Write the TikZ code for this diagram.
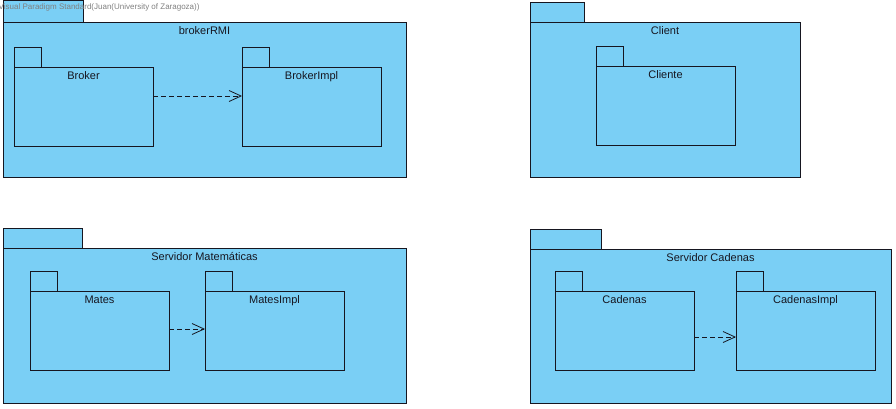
\documentclass[tikz,border=0pt]{standalone}
\usepackage{fontspec}
\setmainfont{Liberation Sans}
\usetikzlibrary{arrows.meta}

\definecolor{pkgfill}{RGB}{122,207,245}
\definecolor{pkgline}{RGB}{22,22,32}
\tikzset{
  pkgbody/.style={draw=pkgline, fill=pkgfill, line width=1pt, anchor=north west, inner sep=0pt, outer sep=0pt},
  pkgtab/.style={draw=pkgline, fill=pkgfill, line width=1pt, anchor=south west, inner sep=0pt, outer sep=0pt, minimum height=20pt},
  pkgname/.style={anchor=base, text=pkgline, font=\fontsize{11}{13}\selectfont},
  dep/.style={draw=pkgline, line width=0.8pt, dash pattern=on 5pt off 3pt, -{Straight Barb[length=12pt,width=11pt]}}
}

\begin{document}
\begin{tikzpicture}[x=1pt,y=-1pt]
    \useasboundingbox (0,0) rectangle (896,408);
    % Outer packages
    \foreach \nm/\x/\y/\w/\h/\tw/\txt in {
        brokerRMI/3/22/403/155/80/brokerRMI,
        client/530/22/270/155/54/Client,
        matServ/3/248/403/155/79/Servidor Matemáticas,
        cadServ/530/249/361/154/71/Servidor Cadenas}
    {
      \node[pkgbody, minimum width=\w pt, minimum height=\h pt] (\nm) at (\x,\y) {};
      \node[pkgtab, minimum width=\tw pt] (\nm tab) at (\nm.north west) {};
      \node[pkgname] (\nm name) at ([yshift=-12.5pt]\nm.north) {\txt};
    }
    \node[pkgtab, minimum width=80pt, minimum height=22pt] at (brokerRMI.north west) {};
    % Inner packages
    \foreach \nm/\x/\y/\txt in {
        broker/14/67/Broker, brokerImpl/242/67/BrokerImpl,
        cliente/596/66/Cliente,
        mates/30/291/Mates, matesImpl/205/291/MatesImpl,
        cadenas/555/291/Cadenas, cadenasImpl/736/291/CadenasImpl}
    {
      \node[pkgbody, minimum width=139pt, minimum height=79pt] (\nm) at (\x,\y) {};
      \node[pkgtab, minimum width=27pt] (\nm tab) at (\nm.north west) {};
      \node[pkgname] (\nm name) at ([yshift=-12.5pt]\nm.north) {\txt};
    }
    % Dependencies
    \draw[dep] ([yshift=10.5pt]broker.east) -- ([yshift=10.5pt]brokerImpl.west);
    \draw[dep] ([yshift=1.5pt]mates.east) -- ([yshift=1.5pt]matesImpl.west);
    \draw[dep] ([yshift=-6.5pt]cadenas.east) -- ([yshift=-6.5pt]cadenasImpl.west);
    % Watermark
    \node[anchor=west, inner sep=0pt, text=gray, font=\fontsize{8}{9}\selectfont] (mark) at (-1.5,7)
      {Visual Paradigm Standard(Juan(University of Zaragoza))};
\end{tikzpicture}
\end{document}
